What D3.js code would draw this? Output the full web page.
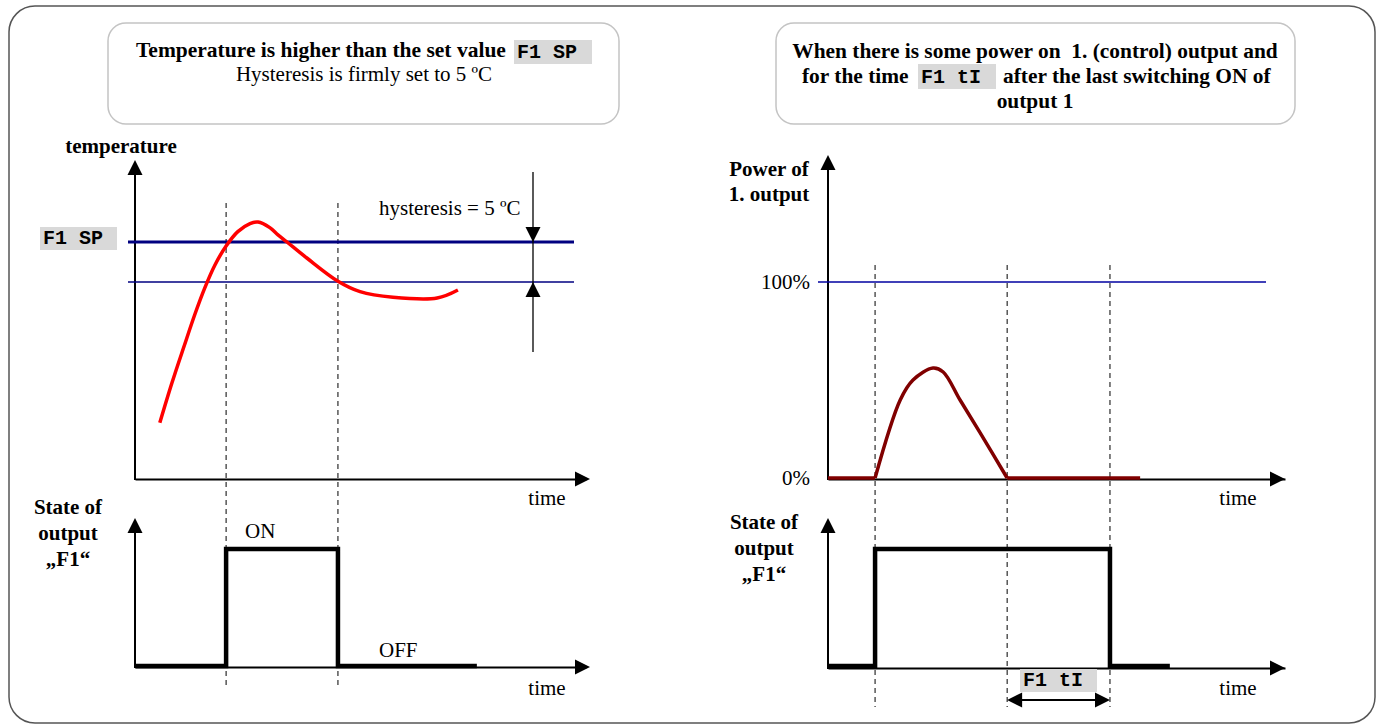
<!DOCTYPE html>
<html>
<head>
<meta charset="utf-8">
<script src="https://cdn.jsdelivr.net/npm/d3@7"></script>
<style>
  body { margin: 0; background: #fff; }
  svg { display: block; font-family: "Liberation Serif", "Times New Roman", serif; }
  .mono { font-family: "Liberation Mono", "Courier New", monospace; font-weight: bold; }
  .bold { font-weight: bold; }
</style>
</head>
<body>
<div id="chart"></div>
<script>

// temperature curve (left panel), time in % of axis length, temp in degC
const tempTime  = [5.5, 8.2, 10.9, 13.3, 15.5, 17.7, 20.2, 22.8, 25.5, 27.3, 29.9, 31.7, 33.7, 38.1, 45.0, 49.9, 57.2, 67.0, 71.6];
const tempValue = [37.4, 42.4, 47.0, 51.0, 54.3, 57.1, 59.5, 61.3, 62.3, 62.5, 61.8, 60.9, 60.0, 58.0, 55.1, 53.8, 53.1, 53.0, 54.0];
const setPoint = 60;
const hysteresis = 5;
const switchLeft = [20.2, 45.0];
const stateLeftTime  = [0, 20.2, 45.0, 75.8];
const stateLeftValue = [0, 1, 0, 0];

// power of output 1 (right panel)
const powerTime  = [0, 10.3, 15.8, 18.6, 23.0, 25.2, 28.9, 33.3, 39.2, 68.3];
const powerValue = [0, 0, 39.8, 50.0, 56.1, 54.1, 39.8, 23.0, 0, 0];
const powerTicks = [0, 100];
const powerTickLabels = ["0%", "100%"];
const switchRight = [10.3, 39.2, 61.7];
const stateRightTime  = [0, 10.3, 61.7, 74.8];
const stateRightValue = [0, 1, 0, 0];

const width = 1382, height = 725;

const svg = d3.select("#chart")
  .append("svg")
  .attr("width", width)
  .attr("height", height);

// frame
svg.append("rect")
  .attr("x", 9).attr("y", 6).attr("width", 1366).attr("height", 717)
  .attr("rx", 26).attr("fill", "none").attr("stroke", "#555").attr("stroke-width", 1.5);

// title boxes
[[108, 511], [776, 519]].forEach(function (b) {
  svg.append("rect")
    .attr("x", b[0]).attr("y", 23).attr("width", b[1]).attr("height", 101)
    .attr("rx", 18).attr("fill", "none").attr("stroke", "#c4c4c4").attr("stroke-width", 1.5);
});

function txt(x, y, s, cls, anchor, size) {
  return svg.append("text")
    .attr("x", x).attr("y", y)
    .attr("class", cls || null)
    .attr("text-anchor", anchor || "start")
    .attr("font-size", size || 21)
    .text(s);
}
function codeBox(x, y, w, h, s, size) {
  svg.append("rect").attr("x", x).attr("y", y).attr("width", w).attr("height", h).attr("fill", "#d9d9d9");
  txt(x + 3, y + h - 6, s, "mono", "start", size || 20);
}

// titles
txt(136, 57, "Temperature is higher than the set value", "bold", "start", 21.5);
codeBox(514, 40, 78, 24, "F1 SP");
txt(364, 81, "Hysteresis is firmly set to 5 ºC", null, "middle");

txt(1035, 58, "When there is some power on  1. (control) output and", "bold", "middle", 21.4).style("white-space", "pre");
txt(802, 83, "for the time", "bold", "start", 21.4);
codeBox(918, 64, 78, 25, "F1 tI");
txt(1003, 83, "after the last switching ON of", "bold", "start", 21.4);
txt(1035, 108, "output 1", "bold", "middle", 21.4);

function tri(tipX, tipY, dir) {
  const l = 15, h = 7.5;
  let p;
  if (dir === "up") p = [[tipX, tipY], [tipX - h, tipY + l], [tipX + h, tipY + l]];
  if (dir === "down") p = [[tipX, tipY], [tipX - h, tipY - l], [tipX + h, tipY - l]];
  if (dir === "right") p = [[tipX, tipY], [tipX - l, tipY - h], [tipX - l, tipY + h]];
  if (dir === "left") p = [[tipX, tipY], [tipX + l, tipY - h], [tipX + l, tipY + h]];
  svg.append("path").attr("d", "M" + p.join("L") + "Z").attr("fill", "#000");
}
function line(x1, y1, x2, y2, w, color, dash) {
  svg.append("line")
    .attr("x1", x1).attr("y1", y1).attr("x2", x2).attr("y2", y2)
    .attr("stroke", color || "#000").attr("stroke-width", w || 2)
    .attr("stroke-dasharray", dash || null);
}
function axes(x0, yBottom, yTop, xEnd, xScale) {
  line(x0, yBottom + 1, x0, yTop + 10, 2);
  tri(x0, yTop, "up");
  svg.append("g")
    .attr("transform", "translate(0," + yBottom + ")")
    .call(d3.axisBottom(xScale).tickValues([]).tickSizeOuter(0))
    .select(".domain").attr("stroke-width", 2);
  tri(xEnd, yBottom, "right");
}

// ---------- left panel ----------
const xL = d3.scaleLinear().domain([0, 100]).range([135, 586]);
const yT = d3.scaleLinear().domain([setPoint - hysteresis, setPoint]).range([282, 242]);
const yS = d3.scaleLinear().domain([0, 1]).range([666, 549]);

// dashed switching moments
switchLeft.forEach(function (t) { line(xL(t), 203, xL(t), 687, 1, "#000", "5,4"); });

axes(135, 479, 160, 590, xL);
axes(135, 667, 518, 590, xL);

// set point and hysteresis lines
line(128, yT(setPoint), 574, yT(setPoint), 3, "#000080");
line(128, yT(setPoint - hysteresis), 574, yT(setPoint - hysteresis), 1.3, "#000080");
codeBox(40, 227, 77, 23, "F1 SP");

// hysteresis dimension
line(533, 172, 533, 352, 1.3);
tri(533, yT(setPoint), "down");
tri(533, yT(setPoint - hysteresis), "up");
txt(379, 215, "hysteresis = 5 ºC");

const tempLine = d3.line()
  .x(function (d, i) { return xL(tempTime[i]); })
  .y(function (d) { return yT(d); })
  .curve(d3.curveCatmullRom.alpha(0.5));
svg.append("path")
  .datum(tempValue)
  .attr("d", tempLine)
  .attr("fill", "none").attr("stroke", "#ff0000").attr("stroke-width", 3.5);

const stateLineL = d3.line()
  .x(function (d, i) { return xL(stateLeftTime[i]); })
  .y(function (d) { return yS(d); })
  .curve(d3.curveStepAfter);
svg.append("path")
  .datum(stateLeftValue)
  .attr("d", stateLineL)
  .attr("fill", "none").attr("stroke", "#000").attr("stroke-width", 4.5);

txt(121, 153, "temperature", "bold", "middle");
txt(547, 505, "time", null, "middle");
txt(547, 695, "time", null, "middle");
txt(68, 514, "State of", "bold", "middle");
txt(68, 540, "output", "bold", "middle");
txt(68, 566, "\u201EF1\u201C", "bold", "middle");
txt(245, 538, "ON");
txt(379, 657, "OFF");

// ---------- right panel ----------
const xR = d3.scaleLinear().domain([0, 100]).range([828, 1285]);
const yP = d3.scaleLinear().domain([0, 100]).range([478, 282]);
const yS2 = d3.scaleLinear().domain([0, 1]).range([666, 549]);

switchRight.forEach(function (t) { line(xR(t), 265, xR(t), 707, 1, "#000", "5,4"); });

axes(828, 479, 155, 1285, xR);
axes(828, 668, 518, 1285, xR);

line(818, yP(100), 1266, yP(100), 1.3, "#0000a0");

svg.append("g")
  .attr("transform", "translate(828,0)")
  .call(d3.axisLeft(yP).tickValues(powerTicks).tickSize(0).tickPadding(18)
    .tickFormat(function (d, i) { return powerTickLabels[i]; }))
  .call(function (g) {
    g.select(".domain").remove();
    g.selectAll("text").attr("font-size", 21).attr("font-family", "Liberation Serif").attr("fill", "#000");
  });

const onIdx = powerTime.indexOf(switchRight[0]);
const offIdx = powerTime.indexOf(switchRight[1]);
const segments = [
  [0, onIdx, d3.curveLinear],
  [onIdx, offIdx, d3.curveCatmullRom.alpha(0.5)],
  [offIdx, powerTime.length - 1, d3.curveLinear]
];
segments.forEach(function (s) {
  const idx = d3.range(s[0], s[1] + 1);
  svg.append("path")
    .datum(idx)
    .attr("d", d3.line()
      .x(function (i) { return xR(powerTime[i]); })
      .y(function (i) { return yP(powerValue[i]); })
      .curve(s[2]))
    .attr("fill", "none").attr("stroke", "#800000").attr("stroke-width", 3.5);
});

const stateLineR = d3.line()
  .x(function (d, i) { return xR(stateRightTime[i]); })
  .y(function (d) { return yS2(d); })
  .curve(d3.curveStepAfter);
svg.append("path")
  .datum(stateRightValue)
  .attr("d", stateLineR)
  .attr("fill", "none").attr("stroke", "#000").attr("stroke-width", 4.5);

// F1 tI dimension
codeBox(1020, 669, 77, 23, "F1 tI");
line(xR(switchRight[1]) + 10, 700, xR(switchRight[2]) - 10, 700, 2);
tri(xR(switchRight[1]), 700, "left");
tri(xR(switchRight[2]), 700, "right");

txt(769, 176, "Power of", "bold", "middle");
txt(769, 201, "1. output", "bold", "middle");
txt(1238, 505, "time", null, "middle");
txt(1238, 695, "time", null, "middle");
txt(764, 529, "State of", "bold", "middle");
txt(764, 555, "output", "bold", "middle");
txt(764, 581, "\u201EF1\u201C", "bold", "middle");

</script>
</body>
</html>
